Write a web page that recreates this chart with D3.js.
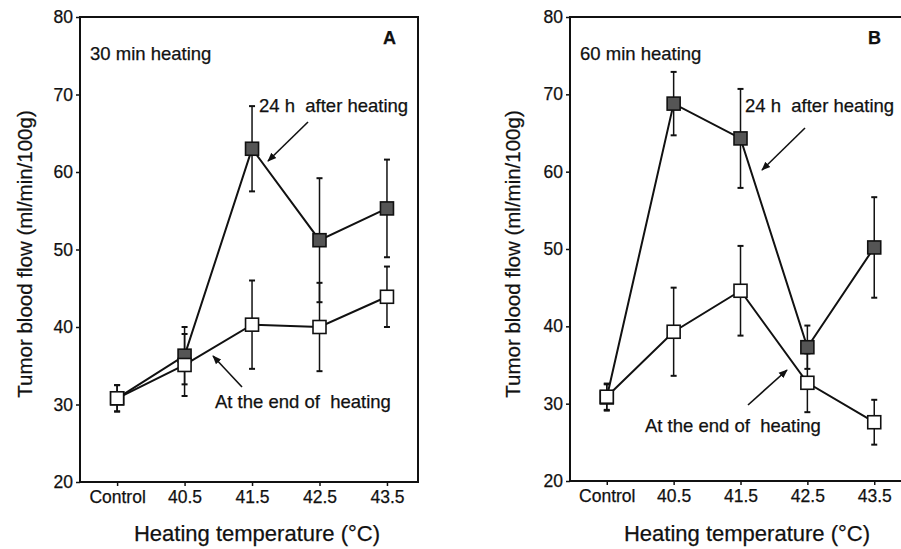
<!DOCTYPE html>
<html>
<head>
<meta charset="utf-8">
<script src="https://cdn.jsdelivr.net/npm/d3@7"></script>
<style>
  body { margin: 0; background: #fff; }
  svg { display: block; font-family: "Liberation Sans", Arial, sans-serif; }
  svg text { stroke: #111; stroke-width: 0.25px; }
</style>
</head>
<body>
<figure style="margin:0"></figure>
<script>
// categories & ticks
const categories = ["Control", "40.5", "41.5", "42.5", "43.5"]
const yTicks = [20, 30, 40, 50, 60, 70, 80]

// panel A : 30 min heating
const a24Mean = [30.8, 36.3, 63.0, 51.2, 55.3]
const a24Err = [1.7, 3.7, 5.5, 8.0, 6.3]
const aEndMean = [30.8, 35.1, 40.3, 40.0, 43.9]
const aEndErr = [1.7, 4.0, 5.7, 5.7, 3.9]

// panel B : 60 min heating
const b24Mean = [30.8, 68.8, 64.3, 37.3, 50.2]
const b24Err = [1.7, 4.1, 6.4, 2.8, 6.5]
const bEndMean = [30.9, 39.3, 44.6, 32.7, 27.6]
const bEndErr = [1.7, 5.7, 5.8, 3.8, 2.9]

const W = 901, H = 549

const svg = d3.select('figure')
  .append('svg')
  .attr('width', W)
  .attr('height', H)

// arrow head
svg.append('defs').append('marker')
  .attr('id', 'arrow')
  .attr('viewBox', '0 0 10 10')
  .attr('refX', 9).attr('refY', 5)
  .attr('markerWidth', 9).attr('markerHeight', 9)
  .attr('markerUnits', 'userSpaceOnUse')
  .attr('orient', 'auto')
  .append('path')
  .attr('d', 'M0,1 L10,5 L0,9 Z')
  .attr('fill', '#111')

function drawPanel(opt) {
  const x = d3.scaleLinear()
    .domain([-0.55, 4.46])
    .range([opt.left, opt.right])
  const y = d3.scaleLinear()
    .domain([20, 80])
    .range([opt.bottom, opt.top])

  const g = svg.append('g')

  // frame
  g.append('rect')
    .attr('x', opt.left).attr('y', opt.top)
    .attr('width', opt.right - opt.left)
    .attr('height', opt.bottom - opt.top)
    .attr('fill', 'none')
    .attr('stroke', '#111')
    .attr('stroke-width', 2)

  // y axis
  const yAxis = g.append('g')
    .attr('transform', `translate(${opt.left},0)`)
    .call(d3.axisLeft(y).tickValues(yTicks).tickSize(4).tickPadding(3))
  yAxis.select('.domain').remove()
  yAxis.selectAll('text')
    .style('font-size', '17.5px')
    .attr('fill', '#111')
  yAxis.selectAll('line').attr('stroke', '#111').attr('stroke-width', 1.5)

  // x axis
  const xAxis = g.append('g')
    .attr('transform', `translate(0,${opt.bottom})`)
    .call(d3.axisBottom(x).tickValues(d3.range(categories.length))
      .tickFormat(i => categories[i]).tickSize(4).tickPadding(5))
  xAxis.select('.domain').remove()
  xAxis.selectAll('text')
    .style('font-size', '17.5px')
    .attr('fill', '#111')
  xAxis.selectAll('line').attr('stroke', '#111').attr('stroke-width', 1.5)

  // axis titles
  g.append('text')
    .attr('transform', `translate(${opt.yLabelX},254) rotate(-90)`)
    .attr('text-anchor', 'middle')
    .style('font-size', '20.5px')
    .attr('fill', '#111')
    .text('Tumor blood flow (ml/min/100g)')

  g.append('text')
    .attr('x', opt.xLabelX)
    .attr('y', 541)
    .attr('text-anchor', 'middle')
    .style('font-size', '22px')
    .attr('fill', '#111')
    .text('Heating temperature (°C)')

  // series: 24 h (filled) drawn first, end of heating (open) on top
  const series = [
    { mean: opt.m24, err: opt.e24, fill: '#555' },
    { mean: opt.mEnd, err: opt.eEnd, fill: '#fff' }
  ]

  const line = d3.line()
    .x((d, i) => x(i))
    .y(d => y(d))

  series.forEach(s => {
    g.append('path')
      .datum(s.mean)
      .attr('d', line)
      .attr('fill', 'none')
      .attr('stroke', '#111')
      .attr('stroke-width', 2)
  })

  series.forEach(s => {
    const eb = g.append('g')
    eb.selectAll('line.v')
      .data(s.mean)
      .enter().append('line')
      .attr('x1', (d, i) => x(i)).attr('x2', (d, i) => x(i))
      .attr('y1', (d, i) => y(d + s.err[i]))
      .attr('y2', (d, i) => y(d - s.err[i]))
      .attr('stroke', '#111').attr('stroke-width', 1.5)
    ;[1, -1].forEach(sign => {
      eb.selectAll(null)
        .data(s.mean)
        .enter().append('line')
        .attr('x1', (d, i) => x(i) - 3).attr('x2', (d, i) => x(i) + 3)
        .attr('y1', (d, i) => y(d + sign * s.err[i]))
        .attr('y2', (d, i) => y(d + sign * s.err[i]))
        .attr('stroke', '#111').attr('stroke-width', 2)
    })
  })

  series.forEach(s => {
    g.append('g')
      .selectAll('rect')
      .data(s.mean)
      .enter().append('rect')
      .attr('x', (d, i) => x(i) - 6.5)
      .attr('y', d => y(d) - 6.5)
      .attr('width', 13).attr('height', 13)
      .attr('fill', s.fill)
      .attr('stroke', '#111')
      .attr('stroke-width', 1.6)
  })

  // annotations
  g.append('text')
    .attr('x', opt.left + 10).attr('y', 60)
    .style('font-size', '18.5px')
    .attr('fill', '#111')
    .text(opt.duration)

  g.append('text')
    .attr('x', opt.letterX).attr('y', 44)
    .style('font-size', '18px')
    .style('font-weight', 'bold')
    .attr('fill', '#111')
    .text(opt.letter)

  g.append('text')
    .attr('x', opt.t24.x).attr('y', opt.t24.y)
    .style('font-size', '18.5px')
    .attr('fill', '#111')
    .attr('xml:space', 'preserve')
    .text('24 h  after heating')

  g.append('text')
    .attr('x', opt.tEnd.x).attr('y', opt.tEnd.y)
    .style('font-size', '18.5px')
    .attr('fill', '#111')
    .attr('xml:space', 'preserve')
    .text('At the end of  heating')

  opt.arrows.forEach(a => {
    g.append('line')
      .attr('x1', a[0]).attr('y1', a[1])
      .attr('x2', a[2]).attr('y2', a[3])
      .attr('stroke', '#111')
      .attr('stroke-width', 1.6)
      .attr('marker-end', 'url(#arrow)')
  })
}

drawPanel({
  left: 80, right: 418, top: 17, bottom: 482,
  yLabelX: 32, xLabelX: 257,
  m24: a24Mean, e24: a24Err, mEnd: aEndMean, eEnd: aEndErr,
  duration: '30 min heating', letter: 'A', letterX: 383,
  t24: { x: 259, y: 112 }, tEnd: { x: 215, y: 408 },
  arrows: [[308, 122, 268, 161], [242, 387, 213, 356]]
})

drawPanel({
  left: 570, right: 905, top: 17, bottom: 481,
  yLabelX: 520, xLabelX: 747,
  m24: b24Mean, e24: b24Err, mEnd: bEndMean, eEnd: bEndErr,
  duration: '60 min heating', letter: 'B', letterX: 868,
  t24: { x: 745, y: 112 }, tEnd: { x: 645, y: 432 },
  arrows: [[805, 128, 762, 170], [748, 405, 787, 370]]
})
</script>
</body>
</html>
